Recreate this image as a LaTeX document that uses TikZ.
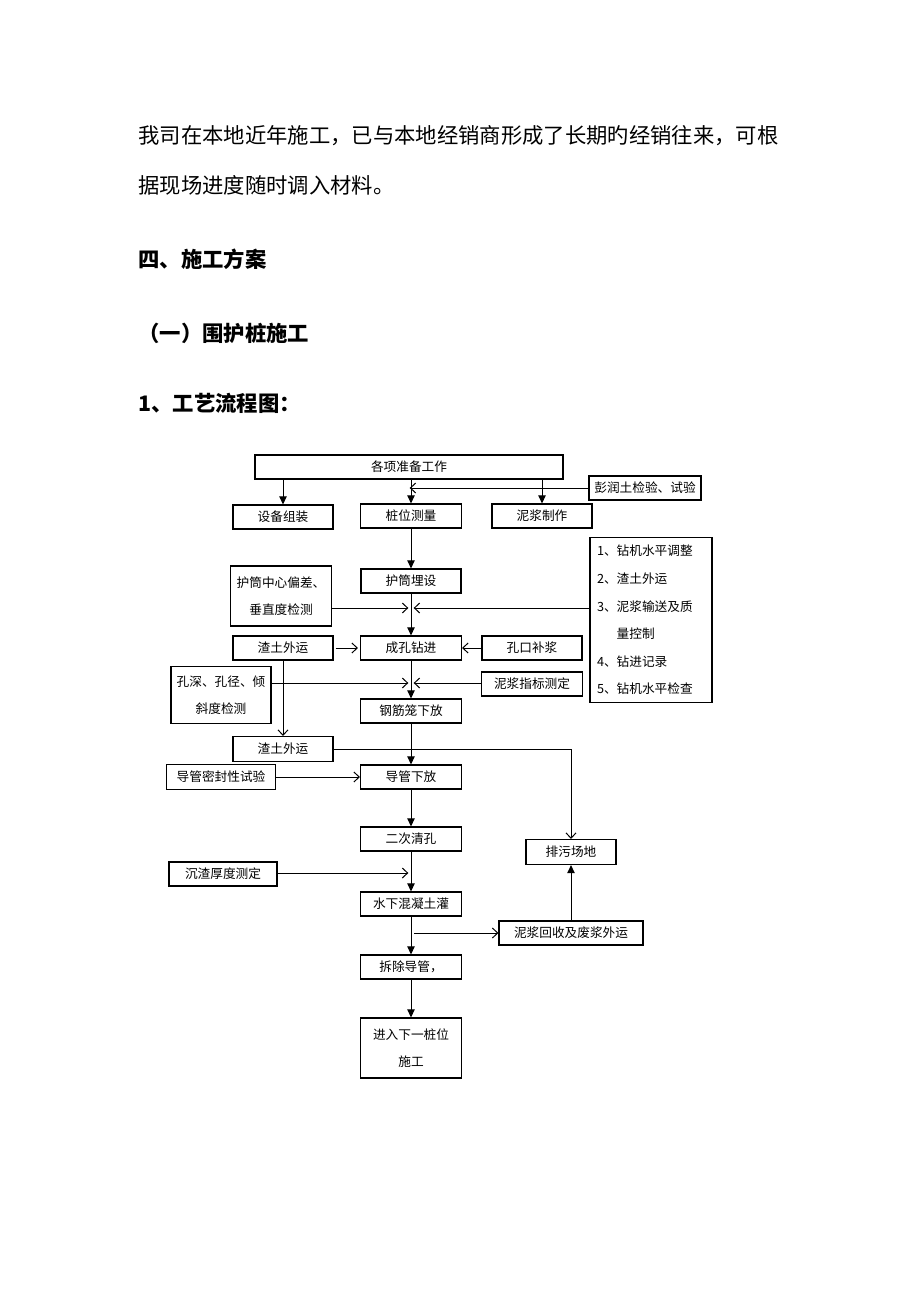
\documentclass[tikz,border=0pt]{standalone}
\usepackage{fontspec}
\setmainfont{Noto Sans CJK SC}
\usetikzlibrary{arrows.meta}

\tikzset{every picture/.style={line width=0.75pt}}
\tikzset{
  box/.style={draw, line width=0.85pt, inner sep=0pt, align=center,
    font=\fontsize{9.5}{20.5}\selectfont},
  sz/.style 2 args={minimum width=#1*0.75pt, minimum height=#2*0.75pt},
  body/.style={anchor=west, inner sep=0pt, font=\fontsize{16}{16}\selectfont},
  head/.style={body, font=\fontsize{16}{16}\selectfont\bfseries},
  flow/.style={-{Triangle[length=6pt,width=5.5pt]}},
  feed/.style={-{Straight Barb[length=4pt,width=7.5pt]}},
}

\begin{document}
\begin{tikzpicture}[x=0.75pt,y=0.75pt,yscale=-1]
	\useasboundingbox (0,0) rectangle (920,1302);

	% Text above the chart
	\node[body] (para1) at (138,136) {我司在本地近年施工，已与本地经销商形成了长期旳经销往来，可根};
	\node[body] (para2) at (138,185) {据现场进度随时调入材料。};
	\node[head] (sec4) at (138,259) {四、施工方案};
	\node[head] (sec41) at (138,333) {（一）围护桩施工};
	\node[head] (sec411) at (138,403) {1、工艺流程图：};

	% Main column
	\node[box, sz={308}{24}] (prep) at (409,467) {各项准备工作};
	\node[box, sz={101}{24}] (survey) at (411,516) {桩位测量};
	\node[box, sz={100}{24}] (casing) at (411,581) {护筒埋设};
	\node[box, sz={101}{24}] (drill) at (411,648) {成孔钻进};
	\node[box, sz={101}{24}] (cage) at (411,711) {钢筋笼下放};
	\node[box, sz={101}{24}] (pipe) at (411,777) {导管下放};
	\node[box, sz={101}{24}] (clean) at (411,839) {二次清孔};
	\node[box, sz={101}{24}] (pour) at (411,904) {水下混凝土灌};
	\node[box, sz={101}{24}] (remove) at (411,967) {拆除导管，};
	\node[box, sz={101}{60}] (next) at (411,1048) {进入下一桩位\\施工};

	% Side boxes
	\node[box, sz={100}{24}] (equip) at (283,517) {设备组装};
	\node[box, sz={100}{24}] (slurry) at (542,516) {泥浆制作};
	\node[box, sz={112}{24}] (bentonite) at (645,488) {彭润土检验、试验};
	\node[box, sz={101}{60}] (check1) at (281,596) {护筒中心偏差、\\垂直度检测};
	\node[box, sz={122}{165}, text width=108*0.75pt, align=left,
		font=\fontsize{9.5}{20.7}\selectfont] (steps) at (651,620) {1、钻机水平调整\\2、渣土外运\\3、泥浆输送及质\\\phantom{3、}量控制\\4、钻进记录\\5、钻机水平检查};
	\node[box, sz={100}{24}] (spoilA) at (283,648) {渣土外运};
	\node[box, sz={100}{24}] (refill) at (532,648) {孔口补浆};
	\node[box, sz={100}{57}] (check2) at (221,695) {孔深、孔径、倾\\斜度检测};
	\node[box, sz={101}{24}] (index) at (532,684) {泥浆指标测定};
	\node[box, sz={100}{25}] (spoilB) at (283,749) {渣土外运};
	\node[box, sz={109}{25}] (seal) at (221,777) {导管密封性试验};
	\node[box, sz={90}{25}] (drain) at (571,852) {排污场地};
	\node[box, sz={108}{24}] (sediment) at (223,874) {沉渣厚度测定};
	\node[box, sz={144}{24}] (recycle) at (571,933) {泥浆回收及废浆外运};

	% Merge points on the main line
	\coordinate (j1) at (411,488);
	\coordinate (j2) at (411,608);
	\coordinate (j3) at (411,683);
	\coordinate (j4) at (411,873);
	\coordinate (j5) at (414,933);

	% Main flow
	\draw[flow] (prep.south -| equip) -- (equip);
	\draw[flow] (prep.south -| survey) -- (survey);
	\draw[flow] (prep.south -| slurry) -- (slurry);
	\draw[flow] (survey) -- (casing);
	\draw[flow] (casing) -- (drill);
	\draw[flow] (drill) -- (cage);
	\draw[flow] (cage) -- (pipe);
	\draw[flow] (pipe) -- (clean);
	\draw[flow] (clean) -- (pour);
	\draw[flow] (pour) -- (remove);
	\draw[flow] (remove) -- (next);
	\draw[flow] (recycle) -- (drain);

	% Side inputs
	\draw[feed, shorten >=-1pt] (bentonite) -- (j1);
	\draw[feed, shorten >=2pt] (check1.east |- j2) -- (j2);
	\draw[feed, shorten >=2pt] (steps.west |- j2) -- (j2);
	\draw[feed, shorten <=1.5pt, shorten >=1.5pt] (spoilA) -- (drill);
	\draw[feed] (refill) -- (drill);
	\draw[feed, shorten >=2pt] (check2.east |- j3) -- (j3);
	\draw[feed, shorten >=2pt] (index.west |- j3) -- (j3);
	\draw[feed] (spoilA) -- (spoilB);
	\draw[feed] (spoilB.east) -| (drain.north);
	\draw[feed] (seal) -- (pipe);
	\draw[feed, shorten >=2pt] (sediment.east |- j4) -- (j4);
	\draw[feed] (j5) -- (recycle);
\end{tikzpicture}
\end{document}
